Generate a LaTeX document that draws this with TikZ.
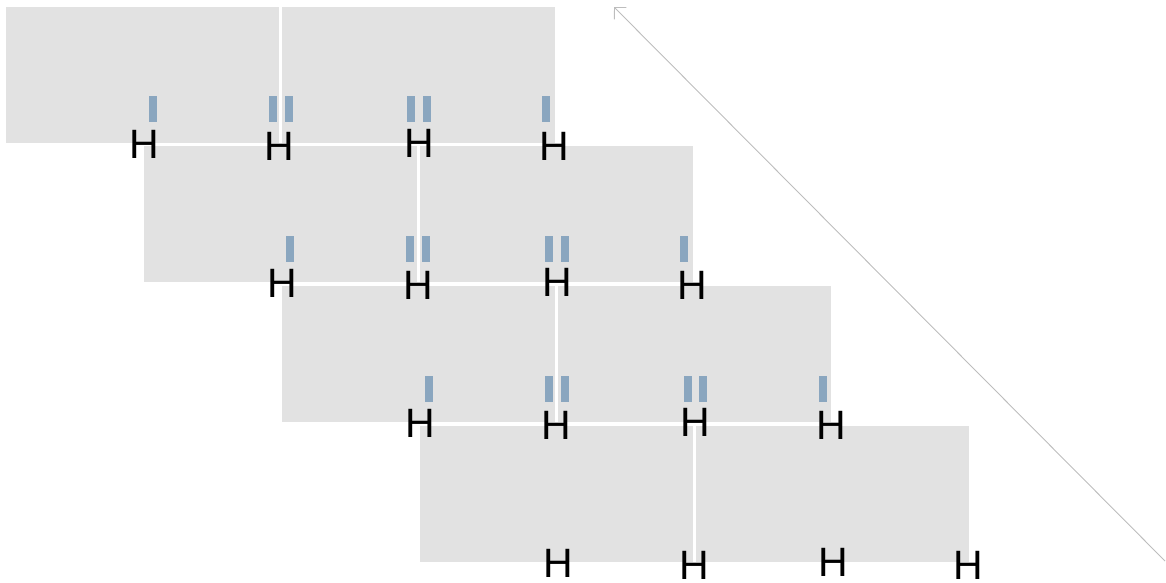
\documentclass[tikz,border=0pt]{standalone}
\usepackage{fontspec}
\setmainfont{Liberation Sans}
\usetikzlibrary{arrows.meta}
\definecolor{cellgray}{HTML}{E2E2E2}
\definecolor{bondblue}{HTML}{8AA6BF}
\definecolor{arrowgray}{HTML}{BDBDBD}

\begin{document}
\begin{tikzpicture}[
  x=1pt, y=-1pt,
  cell/.style={fill=cellgray, anchor=north west, minimum width=273pt, minimum height=136pt, inner sep=0pt},
  atom/.style={inner sep=0pt, font=\fontsize{41}{41}\selectfont},
  bond/.style={fill=bondblue, minimum width=8pt, minimum height=26pt, inner sep=0pt},
  arrow/.style={{Straight Barb[angle=90:12pt]}-, draw=arrowgray, line width=0.9pt}
]
\useasboundingbox (0,0) rectangle (1166,582);
% row 1
\node[cell] (c1a) at (6,7) {};
\node[cell] (c1b) at (282,7) {};
% row 2
\node[cell] (c2a) at (144,146) {};
\node[cell] (c2b) at (420,146) {};
% row 3
\node[cell] (c3a) at (282,286) {};
\node[cell] (c3b) at (558,286) {};
% row 4
\node[cell] (c4a) at (420,426) {};
\node[cell] (c4b) at (696,426) {};
% bonds
\node[bond] (b1a) at (153,109) {};
\node[bond] (b1b) at (273,109) {};
\node[bond] (b1c) at (289,109) {};
\node[bond] (b1d) at (411,109) {};
\node[bond] (b1e) at (427,109) {};
\node[bond] (b1f) at (546,109) {};
\node[bond] (b2a) at (290,249) {};
\node[bond] (b2b) at (410,249) {};
\node[bond] (b2c) at (426,249) {};
\node[bond] (b2d) at (549,249) {};
\node[bond] (b2e) at (565,249) {};
\node[bond] (b2f) at (684,249) {};
\node[bond] (b3a) at (429,389) {};
\node[bond] (b3b) at (549,389) {};
\node[bond] (b3c) at (565,389) {};
\node[bond] (b3d) at (688,389) {};
\node[bond] (b3e) at (703,389) {};
\node[bond] (b3f) at (823,389) {};
% atoms
\node[atom] (h1a) at (144,144) {H};
\node[atom] (h1b) at (279,146) {H};
\node[atom] (h1c) at (419,143) {H};
\node[atom] (h1d) at (554,146) {H};
\node[atom] (h2a) at (282,283) {H};
\node[atom] (h2b) at (418,285) {H};
\node[atom] (h2c) at (557,282) {H};
\node[atom] (h2d) at (692,285) {H};
\node[atom] (h3a) at (420,423) {H};
\node[atom] (h3b) at (556,425) {H};
\node[atom] (h3c) at (695,422) {H};
\node[atom] (h3d) at (831,425) {H};
\node[atom] (h4a) at (558,563) {H};
\node[atom] (h4b) at (694,565) {H};
\node[atom] (h4c) at (833,562) {H};
\node[atom] (h4d) at (968,565) {H};
% diagonal
\coordinate (head) at (614,7);
\coordinate (tail) at (1165,561);
\draw[arrow] (head) -- (tail);
\end{tikzpicture}
\end{document}
